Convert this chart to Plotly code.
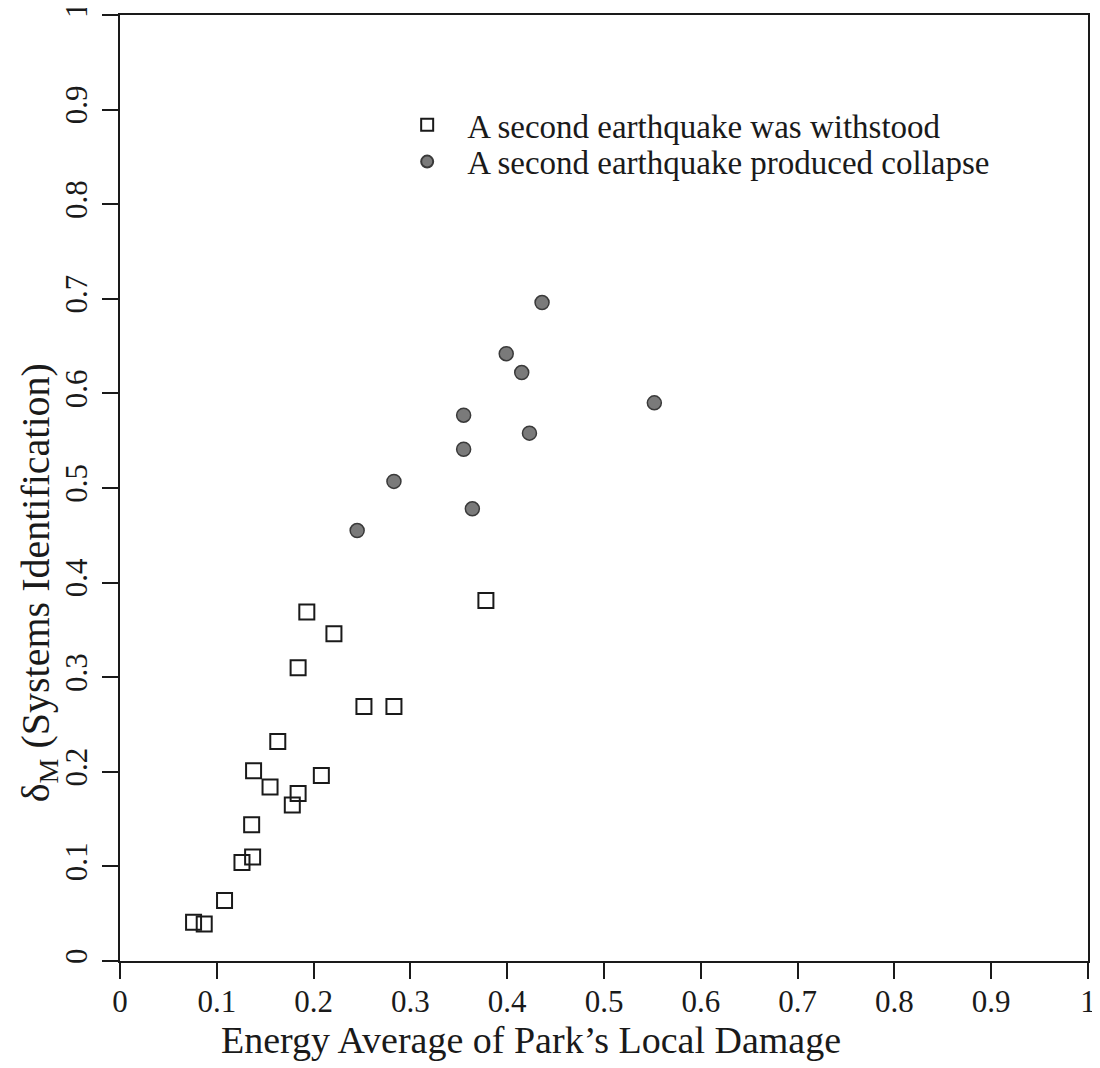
import plotly.graph_objects as go

FONT = 'Liberation Serif'
INK = '#1a1a1a'

# second earthquake was withstood (open squares)
withstood_x = [0.378, 0.193, 0.221, 0.184, 0.252, 0.283, 0.163, 0.138, 0.208,
               0.155, 0.184, 0.178, 0.136, 0.137, 0.126, 0.108, 0.076, 0.087]
withstood_y = [0.381, 0.369, 0.346, 0.310, 0.269, 0.269, 0.232, 0.201, 0.196,
               0.184, 0.177, 0.165, 0.144, 0.110, 0.104, 0.064, 0.041, 0.039]

# second earthquake produced collapse (grey dots)
collapse_x = [0.436, 0.399, 0.415, 0.355, 0.552, 0.423, 0.355, 0.283, 0.364, 0.245]
collapse_y = [0.696, 0.642, 0.622, 0.577, 0.590, 0.558, 0.541, 0.507, 0.478, 0.455]

tick_vals = [0, 0.1, 0.2, 0.3, 0.4, 0.5, 0.6, 0.7, 0.8, 0.9, 1]
tick_text = ['0', '0.1', '0.2', '0.3', '0.4', '0.5', '0.6', '0.7', '0.8', '0.9', '1']

fig = go.Figure()

fig.add_trace(go.Scatter(
    x=withstood_x, y=withstood_y, mode='markers',
    name='A second earthquake was withstood', legend='legend',
    marker=dict(symbol='square-open', size=15, color=INK, line=dict(width=2, color=INK)),
))

fig.add_trace(go.Scatter(
    x=collapse_x, y=collapse_y, mode='markers',
    name='A second earthquake produced collapse', legend='legend2',
    marker=dict(symbol='circle', size=14, color='#7a7a7a', line=dict(width=1.5, color='#3a3a3a')),
))

axis_common = dict(
    range=[0, 1],
    tickvals=tick_vals,
    ticktext=tick_text,
    ticks='outside',
    ticklen=16,
    tickwidth=2,
    tickcolor=INK,
    showline=True,
    linewidth=2,
    linecolor=INK,
    mirror=True,
    showgrid=False,
    zeroline=False,
    automargin=False,
    ticklabeloverflow='allow',
    tickfont=dict(family=FONT, size=31, color=INK),
)

fig.update_xaxes(**axis_common, ticklabelstandoff=-4)
fig.update_yaxes(**axis_common, tickangle=-90, ticklabelstandoff=3)

# axis titles as annotations: both sit off-centre in the original
fig.add_annotation(
    text='Energy Average of Park\u2019s Local Damage',
    xref='paper', yref='paper', x=0.425, y=-0.083, xanchor='center', yanchor='middle',
    showarrow=False, font=dict(family=FONT, size=38, color=INK),
)
fig.add_annotation(
    text='\u03b4<sub>M</sub> (Systems Identification)',
    xref='paper', yref='y', x=-0.085, y=0.40, xanchor='center', yanchor='middle',
    textangle=-90, showarrow=False,
    font=dict(family=FONT, size=40, color=INK),
)

legend_common = dict(
    x=0.276, xanchor='left', yanchor='middle',
    font=dict(family=FONT, size=33, color=INK),
    itemsizing='constant', itemwidth=70,
    bgcolor='rgba(0,0,0,0)',
)

# page body has an 8px margin, so the figure is 8px smaller than the window
fig.update_layout(
    width=1092, height=1060,
    margin=dict(l=112, r=12, t=7, b=107),
    plot_bgcolor='white', paper_bgcolor='white',
    font=dict(family=FONT, color=INK),
    showlegend=True,
    legend=dict(**legend_common, y=0.884),
    legend2=dict(**legend_common, y=0.845),
)

fig.write_html('out.html')
